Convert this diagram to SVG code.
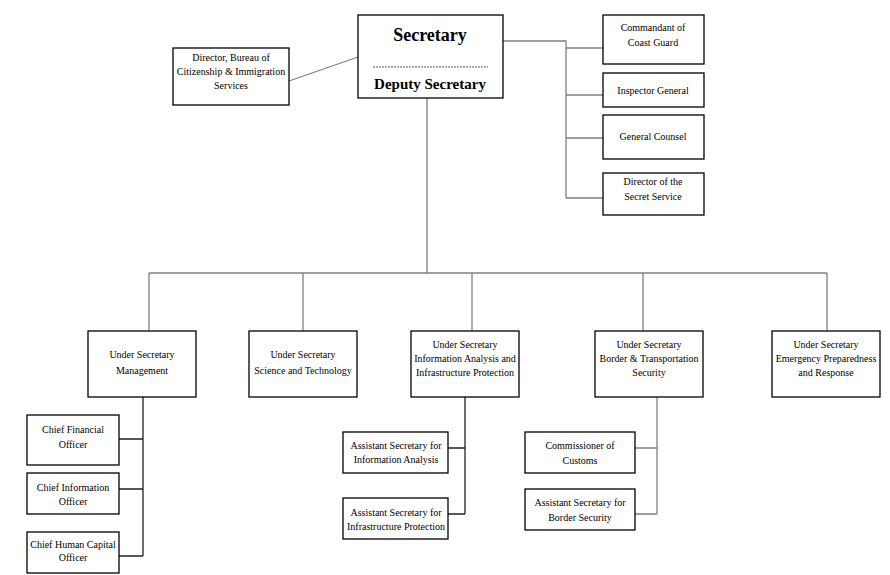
<svg xmlns="http://www.w3.org/2000/svg" width="890" height="575" viewBox="0 0 890 575">
<style>
.box{fill:#fff;stroke:#000;stroke-width:1.3}
.t{font-family:"Liberation Serif","Times New Roman",serif;font-size:10px;fill:#000;text-anchor:middle}
.b{font-family:"Liberation Serif","Times New Roman",serif;font-weight:bold;fill:#000;text-anchor:middle}
.g{fill:none;stroke:#808080;stroke-width:1.3}
.k{fill:none;stroke:#222;stroke-width:1.3}
</style>
<rect width="890" height="575" fill="#fff"/>
<g id="connectors">
  <path class="g" d="M289,81 L358,57"/>
  <path class="g" d="M503,41 H566 V198 M566,48 H603 M566,95 H603 M566,138 H603 M566,198 H603"/>
  <path class="g" d="M427,98 V273 M149,273 H827 M149,273 V331 M303,273 V331 M472,273 V331 M643,273 V331 M827,273 V331"/>
  <path class="k" d="M143,397 V556 M119,439 H143 M119,489 H143 M119,556 H143"/>
  <path class="k" d="M465,397 V514 M448,448 H465 M448,514 H465"/>
  <path class="g" d="M657,397 V514 M635,448 H657 M635,514 H657"/>
</g>
<g id="secretary">
  <rect class="box" x="358" y="15" width="145" height="83"/>
  <text class="b" x="430" y="41" font-size="18">Secretary</text>
  <line x1="373" y1="67" x2="488" y2="67" stroke="#333" stroke-width="0.8" stroke-dasharray="2,1"/>
  <text class="b" x="430" y="89" font-size="15">Deputy Secretary</text>
</g>
<g id="director-bcis">
  <rect class="box" x="173" y="48" width="116" height="57"/>
  <text class="t" x="231" y="61">Director, Bureau of</text>
  <text class="t" x="231" y="75">Citizenship &amp; Immigration</text>
  <text class="t" x="231" y="89">Services</text>
</g>
<g id="commandant">
  <rect class="box" x="603" y="15" width="101" height="49"/>
  <text class="t" x="653" y="31">Commandant of</text>
  <text class="t" x="653" y="46">Coast Guard</text>
</g>
<g id="inspector-general">
  <rect class="box" x="603" y="73" width="101" height="34"/>
  <text class="t" x="653" y="94">Inspector General</text>
</g>
<g id="general-counsel">
  <rect class="box" x="603" y="115" width="101" height="44"/>
  <text class="t" x="653" y="140">General Counsel</text>
</g>
<g id="secret-service">
  <rect class="box" x="603" y="173" width="101" height="42"/>
  <text class="t" x="653" y="185">Director of the</text>
  <text class="t" x="653" y="200">Secret Service</text>
</g>
<g id="us-management">
  <rect class="box" x="88" y="331" width="108" height="66"/>
  <text class="t" x="142" y="358">Under Secretary</text>
  <text class="t" x="142" y="374">Management</text>
</g>
<g id="us-science">
  <rect class="box" x="249" y="331" width="108" height="66"/>
  <text class="t" x="303" y="358">Under Secretary</text>
  <text class="t" x="303" y="374">Science and Technology</text>
</g>
<g id="us-iaip">
  <rect class="box" x="411" y="331" width="108" height="66"/>
  <text class="t" x="465" y="348">Under Secretary</text>
  <text class="t" x="465" y="362">Information Analysis and</text>
  <text class="t" x="465" y="376">Infrastructure Protection</text>
</g>
<g id="us-bts">
  <rect class="box" x="595" y="331" width="108" height="66"/>
  <text class="t" x="649" y="348">Under Secretary</text>
  <text class="t" x="649" y="362">Border  &amp; Transportation</text>
  <text class="t" x="649" y="376">Security</text>
</g>
<g id="us-epr">
  <rect class="box" x="772" y="331" width="108" height="66"/>
  <text class="t" x="826" y="348">Under Secretary</text>
  <text class="t" x="826" y="362">Emergency Preparedness</text>
  <text class="t" x="826" y="376">and Response</text>
</g>
<g id="cfo">
  <rect class="box" x="27" y="415" width="92" height="50"/>
  <text class="t" x="73" y="433">Chief Financial</text>
  <text class="t" x="73" y="448">Officer</text>
</g>
<g id="cio">
  <rect class="box" x="27" y="473" width="92" height="41"/>
  <text class="t" x="73" y="491">Chief Information</text>
  <text class="t" x="73" y="505">Officer</text>
</g>
<g id="chco">
  <rect class="box" x="27" y="532" width="92" height="41"/>
  <text class="t" x="73" y="548">Chief Human Capital</text>
  <text class="t" x="73" y="561">Officer</text>
</g>
<g id="as-ia">
  <rect class="box" x="343" y="432" width="105" height="41"/>
  <text class="t" x="396" y="449">Assistant Secretary  for</text>
  <text class="t" x="396" y="463">Information Analysis</text>
</g>
<g id="as-ip">
  <rect class="box" x="343" y="498" width="105" height="41"/>
  <text class="t" x="396" y="516">Assistant Secretary for</text>
  <text class="t" x="396" y="530">Infrastructure Protection</text>
</g>
<g id="commissioner">
  <rect class="box" x="525" y="432" width="110" height="41"/>
  <text class="t" x="580" y="449">Commissioner of</text>
  <text class="t" x="580" y="464">Customs</text>
</g>
<g id="as-bs">
  <rect class="box" x="525" y="489" width="110" height="41"/>
  <text class="t" x="580" y="506">Assistant Secretary for</text>
  <text class="t" x="580" y="521">Border Security</text>
</g>
</svg>
